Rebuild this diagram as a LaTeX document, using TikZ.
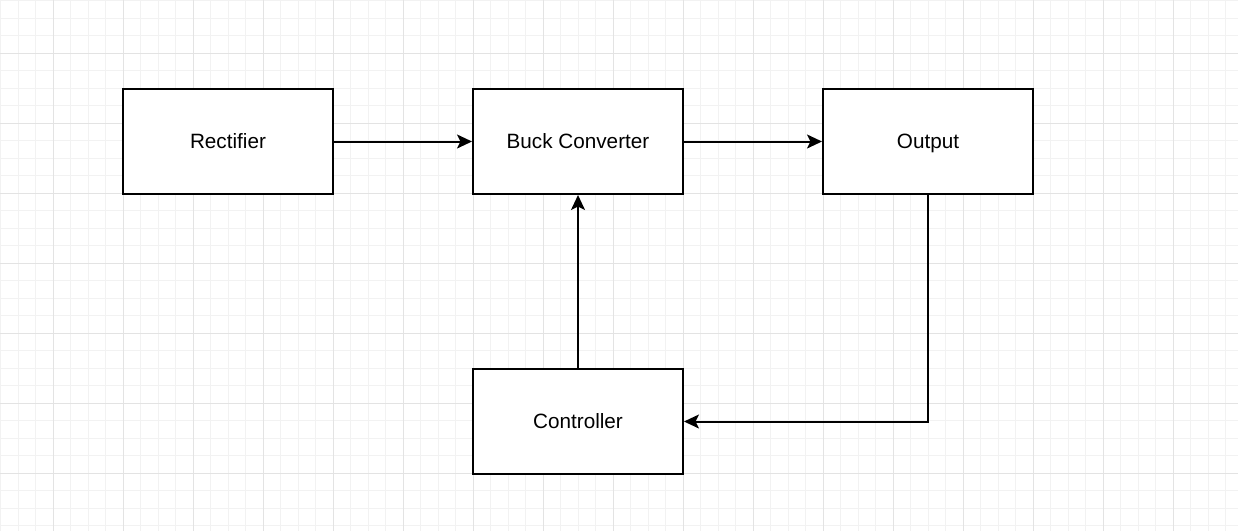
\documentclass[tikz,border=0pt]{standalone}
\usepackage{fontspec}
\setmainfont{Liberation Sans}
\usetikzlibrary{arrows.meta}
\definecolor{gridmajor}{HTML}{E3E3E3}
\definecolor{gridminor}{HTML}{F2F2F2}
\tikzset{
  block/.style={draw=black, line width=2pt, fill=white, minimum width=210pt, minimum height=105pt, inner sep=0pt, text height=16.5pt, text depth=2pt, font=\fontsize{20.7}{24}\selectfont},
  link/.style={line width=2pt, -{Stealth[length=15pt, width=14pt, inset=3.5pt]}},
}
\begin{document}
\begin{tikzpicture}[x=1pt, y=-1pt]
\useasboundingbox (0,0) rectangle (1238,531);
\fill[white] (0,0) rectangle (1238,531);
% minor grid
\foreach \i in {0,...,70} {
  \draw[gridminor, line width=0.8pt] ({0.5+17.5*\i},0) -- ({0.5+17.5*\i},531);
}
\foreach \j in {0,...,30} {
  \draw[gridminor, line width=0.8pt] (0,{0.5+17.5*\j}) -- (1238,{0.5+17.5*\j});
}
% major grid
\foreach \i in {0,...,17} {
  \draw[gridmajor, line width=0.9pt] ({53+70*\i},0) -- ({53+70*\i},531);
}
\foreach \j in {0,...,7} {
  \draw[gridmajor, line width=0.9pt] (0,{53+70*\j}) -- (1238,{53+70*\j});
}
\node[block] (rect) at (228,141.5) {Rectifier};
\node[block] (buck) at (578,141.5) {Buck Converter};
\node[block] (out) at (928,141.5) {Output};
\node[block] (ctrl) at (578,421.5) {Controller};
\draw[link] (rect) -- (buck);
\draw[link] (buck) -- (out);
\draw[link] (ctrl) -- (buck);
\draw[link] (out.south) |- (ctrl.east);
\end{tikzpicture}
\end{document}
